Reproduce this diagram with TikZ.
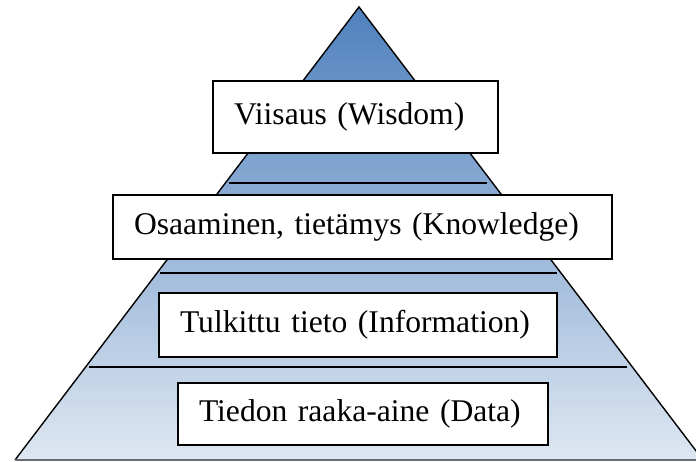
\documentclass[tikz,border=0pt]{standalone}
\usepackage{fontspec}
\setmainfont{Liberation Serif}
\definecolor{topblue}{RGB}{79,129,189}
\definecolor{botblue}{RGB}{222,231,242}
\definecolor{basegrey}{RGB}{100,108,118}
\begin{document}
\begin{tikzpicture}[x=1pt,y=-1pt,
  layerbox/.style={draw=black,line width=1.3pt,fill=white,rectangle,
    inner xsep=21pt,inner ysep=0pt,align=left,
    font=\fontsize{31.6}{36}\selectfont},
  sepline/.style={draw=black,line width=1.4pt}]
\useasboundingbox (0,0) rectangle (696,461);
\clip (0,0) rectangle (696,461);
% pyramid
\coordinate (apex) at (359,7);
\coordinate (bl) at (15,460);
\coordinate (br) at (703,460);
\shade[top color=topblue,bottom color=botblue] (apex) -- (br) -- (bl) -- cycle;
\draw[line width=1.4pt,line join=miter] (bl) -- (apex) -- (br);
\draw[basegrey,line width=1.6pt] (bl) -- (br);
% separator lines
\coordinate (l1a) at (229,183); \coordinate (l1b) at (487,183);
\coordinate (l2a) at (160,273); \coordinate (l2b) at (557,273);
\coordinate (l3a) at (89,367);  \coordinate (l3b) at (627,367);
\draw[sepline] (l1a) -- (l1b);
\draw[sepline] (l2a) -- (l2b);
\draw[sepline] (l3a) -- (l3b);
% boxes
\node[layerbox,text width=243pt,minimum height=72pt] (wisdom) at (355.5,117) {Viisaus (Wisdom)};
\node[layerbox,text width=457pt,minimum height=64pt] (knowledge) at (362.5,227) {Osaaminen, tietämys (Knowledge)};
\node[layerbox,text width=356pt,minimum height=64pt] (information) at (358,325) {Tulkittu tieto (Information)};
\node[layerbox,text width=328pt,minimum height=62pt] (data) at (363,414) {Tiedon raaka-aine (Data)};
\end{tikzpicture}
\end{document}
